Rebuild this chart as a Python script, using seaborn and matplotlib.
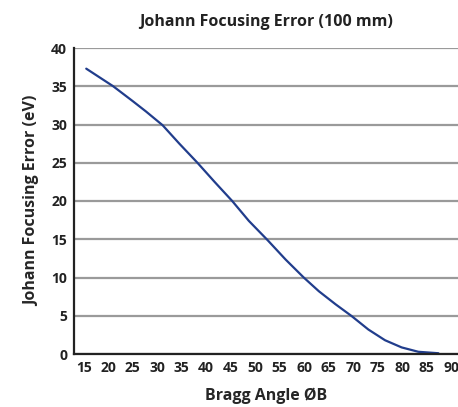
import matplotlib
matplotlib.use("Agg")
import matplotlib.pyplot as plt
import seaborn as sns
import pandas as pd

# values
bragg_angle = [15.5, 21.0, 25.0, 27.7, 31.1, 34.5, 38.2, 41.7, 45.3, 48.7, 52.5, 56.2,
               59.9, 63.0, 66.4, 69.7, 73.1, 76.5, 79.9, 83.3, 87.4]
focus_error = [37.3, 35.0, 33.05, 31.7, 29.9, 27.5, 25.0, 22.5, 20.0, 17.4, 14.9, 12.35,
               10.0, 8.2, 6.5, 4.95, 3.2, 1.8, 0.86, 0.29, 0.1]
x_ticks = list(range(15, 95, 5))
y_ticks = list(range(0, 45, 5))

df = pd.DataFrame({"angle": bragg_angle, "error": focus_error})

sns.set_style("white")
plt.rcParams["font.family"] = ["Open Sans", "DejaVu Sans"]
plt.rcParams["text.color"] = "#222222"

fig = plt.figure(figsize=(4.58, 4.07), dpi=100)
ax = fig.add_axes([74 / 458, 53 / 407, 1 - 74 / 458, 306 / 407])

sns.lineplot(data=df, x="angle", y="error", color="#213d8c", linewidth=1.6, ax=ax)

ax.set_xlim(13, 91.4)
ax.set_ylim(0, 40)
ax.set_xticks(x_ticks)
ax.set_yticks(y_ticks)
ax.yaxis.grid(True, color="#9a9a9a", linewidth=1.6)
ax.xaxis.grid(False)
ax.set_axisbelow(True)
for side in ["top", "right"]:
    ax.spines[side].set_visible(False)
for side in ["left", "bottom"]:
    ax.spines[side].set_color("#222222")
    ax.spines[side].set_linewidth(1.6)
ax.tick_params(axis="both", length=0, labelsize=10, labelcolor="#222222", pad=5)
for lbl in ax.get_xticklabels() + ax.get_yticklabels():
    lbl.set_fontweight("bold")

ax.set_xlabel("Bragg Angle ØB", fontsize=11.5, fontweight="bold", labelpad=9)
ax.set_ylabel("Johann Focusing Error (eV)", fontsize=11.5, fontweight="bold", labelpad=8)
ax.set_title("Johann Focusing Error (100 mm)", fontsize=11.5, fontweight="bold", pad=16)

plt.savefig("out.png", dpi=100)
